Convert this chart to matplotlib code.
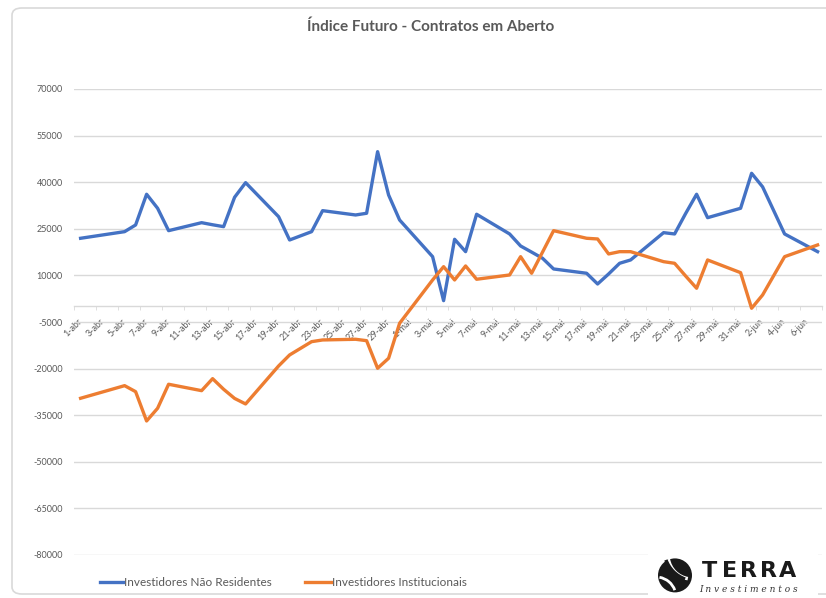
import numpy as np
import pandas as pd
import matplotlib
matplotlib.use('Agg')
import matplotlib.pyplot as plt
import matplotlib.dates as mdates
from matplotlib.patches import FancyBboxPatch, Rectangle, Circle, Arc
from matplotlib.lines import Line2D

plt.rcParams['axes.unicode_minus'] = False

# dados (pregões de abr-jun)
datas = ['2021-04-01', '2021-04-05', '2021-04-06', '2021-04-07', '2021-04-08', '2021-04-09',
         '2021-04-12', '2021-04-13', '2021-04-14', '2021-04-15', '2021-04-16', '2021-04-19',
         '2021-04-20', '2021-04-22', '2021-04-23', '2021-04-26', '2021-04-27', '2021-04-28',
         '2021-04-29', '2021-04-30',
         '2021-05-03', '2021-05-04', '2021-05-05', '2021-05-06', '2021-05-07', '2021-05-10',
         '2021-05-11', '2021-05-12', '2021-05-13', '2021-05-14', '2021-05-17', '2021-05-18',
         '2021-05-19', '2021-05-20', '2021-05-21', '2021-05-24', '2021-05-25', '2021-05-26',
         '2021-05-27', '2021-05-28', '2021-05-31',
         '2021-06-01', '2021-06-02', '2021-06-04', '2021-06-07']

nao_residentes = [21950, 24080, 26230, 36120, 31610, 24400, 26970, 26300, 25690, 35150,
                  39850, 28900, 21400, 24080, 30840, 29450, 30000, 49830, 35890, 27840,
                  16030, 1870, 21630, 17640, 29680, 23340, 19470, 17500, 15500, 12070,
                  10690, 7240, 10460, 13900, 14970, 23760, 23340, 29900, 36120, 28580,
                  31610,
                  42870, 38500, 23340, 17640]

institucionais = [-29550, -25490, -27420, -36860, -32770, -25040, -27100, -23240, -26650, -29600,
                  -31380, -19150, -15610, -11330, -10780, -10560, -11010, -19890, -16670, -5410,
                  8530, 12810, 8530, 13040, 8760, 10140, 16030, 10690, 17540, 24400,
                  21950, 21730, 16900, 17640, 17640, 14420, 13900, 9820, 5860, 14970,
                  10880,
                  -580, 3700, 16030, 19800]

meses = {4: 'abr', 5: 'mai', 6: 'jun'}
dias_rotulo = pd.date_range('2021-04-01', '2021-06-06', freq='2D')
rotulos_x = [f'{d.day}-{meses[d.month]}' for d in dias_rotulo]

titulo = 'Índice Futuro - Contratos em Aberto'
series_nomes = ['Investidores Não Residentes', 'Investidores Institucionais']
AZUL = '#4472C4'
LARANJA = '#ED7D31'
CINZA_TXT = '#595959'
CINZA_GRID = '#d9d9d9'
FONTE = ['Liberation Sans Narrow', 'Lato', 'DejaVu Sans']

W, H = 826, 598
fx = lambda px: px / W
fy = lambda py: 1 - py / H

fig = plt.figure(figsize=(W / 100, H / 100), dpi=100)

# moldura do grafico
frame = FancyBboxPatch((fx(12), fy(594)), fx(840) - fx(12), fy(8) - fy(594),
                       boxstyle='round,pad=0,rounding_size=0.012',
                       transform=fig.transFigure, fc='white', ec=CINZA_GRID, lw=1.2,
                       zorder=-5)
fig.patches.append(frame)

fig.text(fx(431), fy(27), titulo, ha='center', va='center', fontsize=11,
         color=CINZA_TXT, family=FONTE, fontweight='bold')

ax = fig.add_axes([fx(74), fy(555), fx(822) - fx(74), fy(89) - fy(555)])
ax.set_facecolor('none')

x = mdates.date2num(pd.to_datetime(datas))
ax.plot(x, nao_residentes, color=AZUL, lw=2.4, solid_joinstyle='round', zorder=3)
ax.plot(x, institucionais, color=LARANJA, lw=2.4, solid_joinstyle='round', zorder=3)

x0 = mdates.date2num(pd.Timestamp('2021-04-01'))
x1 = mdates.date2num(pd.Timestamp('2021-06-07'))
ax.set_xlim(x0 - 0.6, x1 + 0.4)
ax.set_ylim(-80000, 70000)
ax.set_yticks(np.arange(-80000, 70001, 15000))
ax.yaxis.grid(True, color=CINZA_GRID, lw=1)
ax.set_axisbelow(True)

for s in ['top', 'right', 'left']:
    ax.spines[s].set_visible(False)
ax.spines['bottom'].set_position(('data', 0))
ax.spines['bottom'].set_color(CINZA_GRID)
ax.spines['bottom'].set_linewidth(1)

xt = mdates.date2num(dias_rotulo)
ax.set_xticks(xt)
ax.set_xticklabels(rotulos_x, rotation=45, ha='right', va='center',
                   rotation_mode='anchor', fontsize=6.5, color=CINZA_TXT, family=FONTE)
ax.set_xticks(np.arange(x0 - 0.6, x1 + 0.5, 2), minor=True)
ax.tick_params(axis='x', which='major', length=0, pad=10)
ax.tick_params(axis='x', which='minor', length=3, color=CINZA_GRID, direction='out')
ax.tick_params(axis='y', length=0, pad=8, labelsize=6.5, labelcolor=CINZA_TXT)
for t in ax.get_yticklabels():
    t.set_family(FONTE)

# legenda
for (x_a, x_b, x_t), nome, cor in zip([(100, 123, 124), (305, 331, 332)], series_nomes, [AZUL, LARANJA]):
    fig.add_artist(Line2D([fx(x_a), fx(x_b)], [fy(582), fy(582)], color=cor, lw=2.4,
                          transform=fig.transFigure))
    fig.text(fx(x_t), fy(582), nome, ha='left', va='center', fontsize=8.5,
             color=CINZA_TXT, family=FONTE)

# logo TERRA
fig.patches.append(Rectangle((fx(648), fy(597)), fx(818) - fx(648), fy(549) - fy(597),
                             transform=fig.transFigure, fc='white', ec='none', zorder=5))
lax = fig.add_axes([fx(652), fy(595), fx(696) - fx(652), fy(555) - fy(595)], zorder=6)
lax.set_xlim(-1.1, 1.1)
lax.set_ylim(-1.0, 1.0)
lax.axis('off')
lax.add_patch(Circle((0.05, -0.02), 0.85, fc='#1a1a1a', ec='none'))
lax.add_patch(Arc((0.9, 1.0), 2.4, 2.4, theta1=190, theta2=260, color='white', lw=2.5))
lax.add_patch(Arc((1.1, 1.3), 3.2, 3.2, theta1=200, theta2=250, color='#1a1a1a', lw=2.5))
lax.add_patch(Arc((-0.9, -1.1), 2.0, 2.0, theta1=20, theta2=80, color='white', lw=2))
for i, letra in enumerate('TERRA'):
    fig.text(fx(710 + i * 19.5), fy(571), letra, ha='center', va='center', fontsize=16,
             fontweight='bold', color='#1a1a1a', family='DejaVu Sans', zorder=7)
fig.text(fx(748), fy(589), 'I n v e s t i m e n t o s', ha='center', va='center', fontsize=6.5,
         style='italic', color='#333333', family='DejaVu Serif', zorder=7)

fig.savefig('out.png', dpi=100)
